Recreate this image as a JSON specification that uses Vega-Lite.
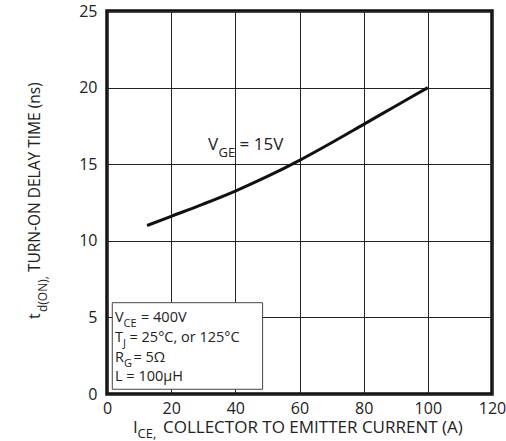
{
  "$schema": "https://vega.github.io/schema/vega-lite/v6.json",
  "width": 385,
  "height": 383,
  "autosize": {"type": "none"},
  "padding": {"left": 107, "top": 11, "right": 14, "bottom": 47},
  "background": "white",
  "config": {
    "font": "Open Sans",
    "view": {"stroke": "#111", "strokeWidth": 3.5},
    "axis": {
      "domain": false,
      "ticks": false,
      "grid": true,
      "gridColor": "#222",
      "gridWidth": 1,
      "gridOpacity": 1,
      "labelFont": "Open Sans",
      "labelFontSize": 16,
      "labelColor": "#222",
      "title": null
    },
    "text": {"font": "Open Sans", "color": "#222", "align": "left", "baseline": "alphabetic"}
  },
  "layer": [
    {
      "data": {
        "values": [
          {"current": 12.5, "delay": 11.0},
          {"current": 20, "delay": 11.6},
          {"current": 30, "delay": 12.4},
          {"current": 40, "delay": 13.25},
          {"current": 50, "delay": 14.2},
          {"current": 60, "delay": 15.25},
          {"current": 70, "delay": 16.4},
          {"current": 80, "delay": 17.6},
          {"current": 90, "delay": 18.8},
          {"current": 100, "delay": 20.0}
        ]
      },
      "mark": {"type": "line", "color": "#111", "strokeWidth": 3, "interpolate": "monotone"},
      "encoding": {
        "x": {
          "field": "current", "type": "quantitative",
          "scale": {"domain": [0, 120], "nice": false},
          "axis": {"values": [0, 20, 40, 60, 80, 100, 120], "labelPadding": 6, "labelBaseline": "top", "labelFlush": false}
        },
        "y": {
          "field": "delay", "type": "quantitative",
          "scale": {"domain": [0, 25], "nice": false},
          "axis": {"values": [0, 5, 10, 15, 20, 25], "labelPadding": 10, "labelBaseline": "middle", "labelFlush": false}
        }
      }
    },
    {
      "data": {"values": [{}]},
      "mark": {"type": "rect", "fill": "white", "stroke": "#444", "strokeWidth": 1},
      "encoding": {
        "x": {"datum": 1.65, "type": "quantitative"},
        "x2": {"datum": 48.5},
        "y": {"datum": 5.96, "type": "quantitative"},
        "y2": {"datum": 0.31}
      }
    },
    {
      "data": {"values": [{}]},
      "layer": [
        {"mark": {"type": "text", "text": "V", "fontSize": 17}},
        {"mark": {"type": "text", "text": "GE", "fontSize": 13, "dx": 10.5, "dy": 7}},
        {"mark": {"type": "text", "text": "= 15V", "fontSize": 17, "dx": 31.5}}
      ],
      "encoding": {"x": {"datum": 31.5, "type": "quantitative"}, "y": {"datum": 15.93, "type": "quantitative"}}
    },
    {
      "data": {"values": [{}]},
      "layer": [
        {"mark": {"type": "text", "text": "V", "fontSize": 14.5}},
        {"mark": {"type": "text", "text": "CE", "fontSize": 11, "dx": 8.5, "dy": 5}},
        {"mark": {"type": "text", "text": "= 400V", "fontSize": 14.5, "dx": 26}}
      ],
      "encoding": {"x": {"datum": 2.5, "type": "quantitative"}, "y": {"datum": 4.72, "type": "quantitative"}}
    },
    {
      "data": {"values": [{}]},
      "layer": [
        {"mark": {"type": "text", "text": "T", "fontSize": 14.5}},
        {"mark": {"type": "text", "text": "J", "fontSize": 11, "dx": 8, "dy": 5}},
        {"mark": {"type": "text", "text": "= 25°C, or 125°C", "fontSize": 14.5, "dx": 14.5}}
      ],
      "encoding": {"x": {"datum": 2.5, "type": "quantitative"}, "y": {"datum": 3.41, "type": "quantitative"}}
    },
    {
      "data": {"values": [{}]},
      "layer": [
        {"mark": {"type": "text", "text": "R", "fontSize": 14.5}},
        {"mark": {"type": "text", "text": "G", "fontSize": 11, "dx": 9, "dy": 5}},
        {"mark": {"type": "text", "text": "= 5Ω", "fontSize": 14.5, "dx": 18.5}}
      ],
      "encoding": {"x": {"datum": 2.5, "type": "quantitative"}, "y": {"datum": 2.11, "type": "quantitative"}}
    },
    {
      "data": {"values": [{}]},
      "mark": {"type": "text", "text": "L = 100μH", "fontSize": 14.5},
      "encoding": {"x": {"datum": 2.5, "type": "quantitative"}, "y": {"datum": 0.87, "type": "quantitative"}}
    },
    {
      "data": {"values": [{}]},
      "layer": [
        {"mark": {"type": "text", "text": "I", "fontSize": 17}},
        {"mark": {"type": "text", "text": "CE,", "fontSize": 13, "dx": 4.5, "dy": 5}},
        {"mark": {"type": "text", "text": "COLLECTOR TO EMITTER CURRENT (A)", "fontSize": 17, "dx": 30}}
      ],
      "encoding": {"x": {"datum": 8.1, "type": "quantitative"}, "y": {"datum": -2.55, "type": "quantitative"}}
    },
    {
      "data": {"values": [{}]},
      "layer": [
        {"mark": {"type": "text", "text": "TURN-ON DELAY TIME (ns)", "fontSize": 15.5, "angle": 270}},
        {"mark": {"type": "text", "text": "d(ON),", "fontSize": 12, "angle": 270, "dx": -40, "dy": 7}},
        {"mark": {"type": "text", "text": "t", "fontSize": 16, "angle": 270, "dx": -47}}
      ],
      "encoding": {"x": {"datum": -20.9, "type": "quantitative"}, "y": {"datum": 7.96, "type": "quantitative"}}
    }
  ]
}
